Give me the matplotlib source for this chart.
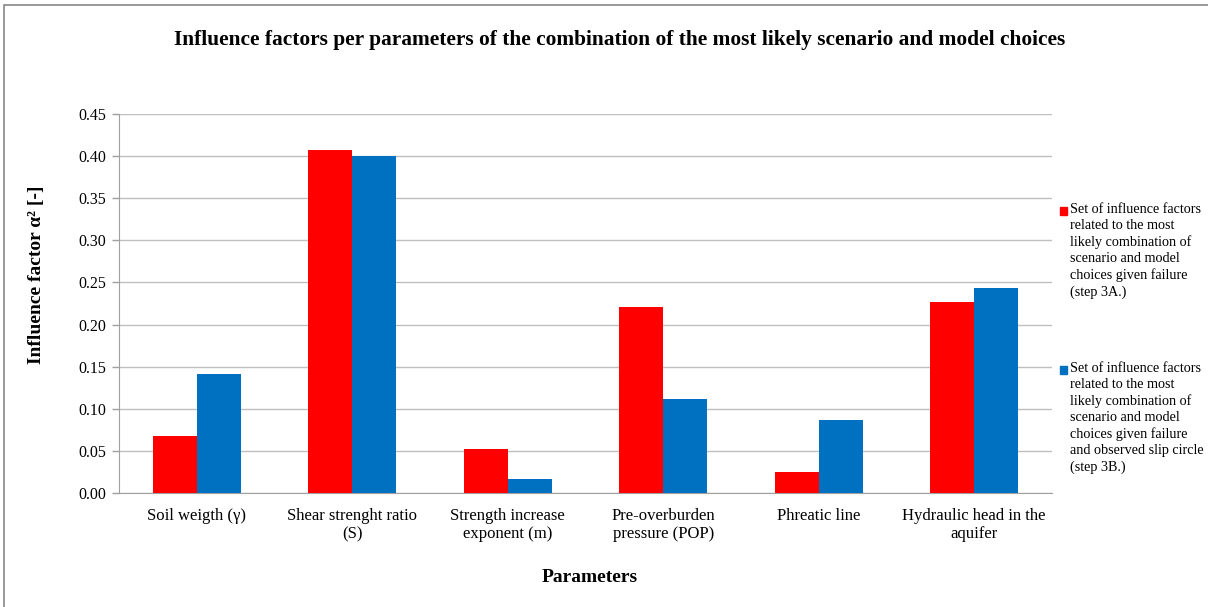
import matplotlib
matplotlib.use("Agg")
import matplotlib.pyplot as plt
import numpy as np
from matplotlib.patches import Rectangle

categories = ["Soil weigth (\u03b3)", "Shear strenght ratio\n(S)", "Strength increase\nexponent (m)",
              "Pre-overburden\npressure (POP)", "Phreatic line", "Hydraulic head in the\naquifer"]
series_3a = [0.068, 0.408, 0.052, 0.221, 0.025, 0.227]
series_3b = [0.141, 0.400, 0.016, 0.112, 0.086, 0.244]
label_3a = ("Set of influence factors\nrelated to the most\nlikely combination of\n"
            "scenario and model\nchoices given failure\n(step 3A.)")
label_3b = ("Set of influence factors\nrelated to the most\nlikely combination of\n"
            "scenario and model\nchoices given failure\nand observed slip circle\n(step 3B.)")
yticks = [0.00, 0.05, 0.10, 0.15, 0.20, 0.25, 0.30, 0.35, 0.40, 0.45]

RED = "#FF0000"
BLUE = "#0070C0"
SERIF = ["Liberation Serif", "DejaVu Serif"]

W, H = 1208, 607
fig = plt.figure(figsize=(W / 100, H / 100), dpi=100)
fig.patch.set_facecolor("white")

ax = fig.add_axes([119 / W, 1 - 492.7 / H, (1052 - 119) / W, (492.7 - 114.3) / H])
x = np.arange(len(categories))
bw = 0.283
ax.bar(x - bw / 2, series_3a, bw, color=RED, zorder=3)
ax.bar(x + bw / 2, series_3b, bw, color=BLUE, zorder=3)
ax.set_xlim(-0.5, len(categories) - 0.5)
ax.set_ylim(0, 0.45)
ax.set_yticks(yticks)
ax.set_yticklabels([f"{v:.2f}" for v in yticks], fontfamily=SERIF, fontsize=11.5)
ax.set_xticks(x)
ax.set_xticklabels(categories, fontfamily=SERIF, fontsize=12, linespacing=1.2)
ax.tick_params(axis="x", length=0, pad=11)
ax.tick_params(axis="y", length=5, color="#A0A0A0", pad=4, width=1)
ax.grid(axis="y", color="#BFBFBF", linewidth=1, zorder=0)
for s in ["top", "right"]:
    ax.spines[s].set_visible(False)
ax.spines["left"].set_color("#A0A0A0")
ax.spines["bottom"].set_color("#A0A0A0")

fig.text(620 / W, 1 - 40 / H,
         "Influence factors per parameters of the combination of the most likely scenario and model choices",
         ha="center", va="center", fontfamily=SERIF, fontweight="bold", fontsize=15.4)
fig.text(37 / W, 1 - 275 / H, "Influence factor \u03b1\u00b2 [-]", rotation=90,
         ha="center", va="center", fontfamily=SERIF, fontweight="bold", fontsize=14)
fig.text(590 / W, 1 - 577 / H, "Parameters", ha="center", va="center",
         fontfamily=SERIF, fontweight="bold", fontsize=14)

# legend
for lab, col, ytop, msq in [(label_3a, RED, 203, 207), (label_3b, BLUE, 362, 366)]:
    fig.patches.append(Rectangle((1060 / W, 1 - (msq + 8) / H), 7 / W, 8 / H,
                                 transform=fig.transFigure, color=col, figure=fig))
    fig.text(1070 / W, 1 - ytop / H, lab, ha="left", va="top", fontfamily=SERIF,
             fontsize=10.2, linespacing=1.3)

# chart border
fig.patches.append(Rectangle((4 / W, -0.05), 1.2, 1 - 5 / H + 0.05, transform=fig.transFigure,
                             fill=False, edgecolor="#888888", linewidth=1.2, figure=fig))

fig.savefig("out.png", dpi=100, facecolor="white")
